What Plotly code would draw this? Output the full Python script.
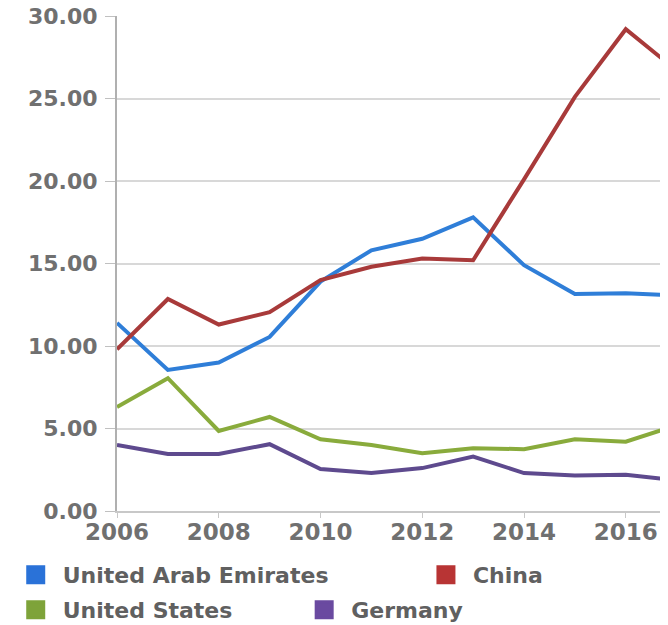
import plotly.graph_objects as go

years = list(range(2006, 2018))
uae = [11.4, 8.55, 9.0, 10.55, 13.9, 15.8, 16.5, 17.8, 14.9, 13.15, 13.2, 13.05]
china = [9.8, 12.85, 11.3, 12.05, 14.0, 14.8, 15.3, 15.2, 20.1, 25.1, 29.2, 26.7]
usa = [6.3, 8.05, 4.85, 5.7, 4.35, 4.0, 3.5, 3.8, 3.75, 4.35, 4.2, 5.2]
germany = [4.0, 3.45, 3.45, 4.05, 2.55, 2.3, 2.6, 3.3, 2.3, 2.15, 2.2, 1.85]
y_ticks = [0, 5, 10, 15, 20, 25, 30]

series_names = ["United Arab Emirates", "China", "United States", "Germany"]
series_values = [uae, china, usa, germany]
line_colors = ["#2f7ed8", "#a83a3a", "#89ab3c", "#5e4a8e"]
swatch_colors = ["#2a72d8", "#b83434", "#7ea33a", "#6a4aa0"]
legend_ids = ["legend", "legend2", "legend3", "legend4"]
legend_pos = [(-0.1965, -0.129), (0.548, -0.129), (-0.1965, -0.2), (0.327, -0.2)]

fig = go.Figure()
for name, vals, lc in zip(series_names, series_values, line_colors):
    fig.add_trace(go.Scatter(x=years, y=vals, mode="lines", name=name,
                             line=dict(color=lc, width=4), showlegend=False))
for name, sc, lg in zip(series_names, swatch_colors, legend_ids):
    fig.add_trace(go.Scatter(x=[None], y=[None], mode="markers", name=name,
                             marker=dict(symbol="square", size=16, color=sc,
                                         line=dict(color=sc, width=3)),
                             showlegend=True, legend=lg))

font_fam = "DejaVu Sans"
txt_col = "#707070"
leg_font = dict(size=22, color="#606060", weight="bold")
legends = {}
for lg, (lx, ly) in zip(legend_ids, legend_pos):
    legends[lg] = dict(orientation="h", x=lx, xanchor="left", y=ly, yanchor="middle",
                       font=leg_font, bgcolor="rgba(0,0,0,0)", itemclick=False,
                       itemdoubleclick=False, itemwidth=44)

fig.update_layout(
    width=660, height=617,
    margin=dict(l=109, r=0, t=8, b=114, autoexpand=False),
    paper_bgcolor="white", plot_bgcolor="white",
    font=dict(family=font_fam, color=txt_col),
    xaxis=dict(range=[2006, 2016.83], tickmode="linear", tick0=2006, dtick=2,
               showgrid=False, showline=True, linecolor="#c8c8c8", linewidth=2,
               ticks="outside", ticklen=5, tickcolor="#c8c8c8",
               ticklabelstandoff=-6, automargin=False, ticklabeloverflow="allow",
               tickfont=dict(size=23, color=txt_col, weight="bold"), zeroline=False),
    yaxis=dict(range=[0, 30], tickmode="array", tickvals=y_ticks,
               tickformat=".2f", showgrid=True, gridcolor="#d8d8d8", gridwidth=2,
               showline=True, linecolor="#b0b0b0", linewidth=2,
               ticks="outside", ticklen=10, tickcolor="#c0c0c0",
               ticklabelstandoff=3, automargin=False, ticklabeloverflow="allow",
               tickfont=dict(size=22, color=txt_col, weight="bold"), zeroline=False),
    **legends,
)

fig.write_html("out.html")
